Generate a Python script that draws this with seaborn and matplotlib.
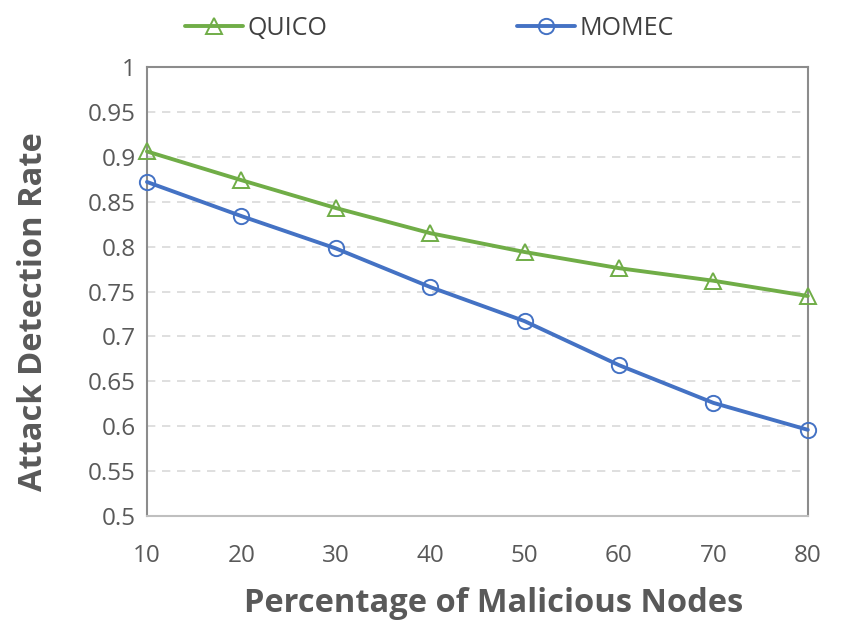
import numpy as np
import pandas as pd
import seaborn as sns
import matplotlib.pyplot as plt

# data
malicious_pct = [10, 20, 30, 40, 50, 60, 70, 80]
quico = [0.906, 0.874, 0.843, 0.815, 0.794, 0.776, 0.762, 0.745]
momec = [0.872, 0.834, 0.798, 0.755, 0.717, 0.668, 0.626, 0.596]
y_ticks = [0.5, 0.55, 0.6, 0.65, 0.7, 0.75, 0.8, 0.85, 0.9, 0.95, 1]
y_tick_labels = ['0.5', '0.55', '0.6', '0.65', '0.7', '0.75', '0.8', '0.85', '0.9', '0.95', '1']

sns.set_style('white')
plt.rcParams['font.family'] = ['Open Sans', 'DejaVu Sans']

df = pd.DataFrame({
    'pct': malicious_pct * 2,
    'rate': quico + momec,
    'method': ['QUICO'] * len(quico) + ['MOMEC'] * len(momec),
})

fig = plt.figure(figsize=(8.53, 6.28), dpi=100)
ax = fig.add_axes([0.1723, 0.1783, 0.7747, 0.715])

sns.lineplot(data=df, x='pct', y='rate', hue='method', style='method',
             palette={'QUICO': '#70AD47', 'MOMEC': '#4472C4'},
             markers={'QUICO': '^', 'MOMEC': 'o'}, dashes=False,
             linewidth=2.8, markersize=11, markerfacecolor='none',
             markeredgewidth=1.4, ax=ax, legend=False, clip_on=False, zorder=5)

for ln, c in zip(ax.lines, ['#70AD47', '#4472C4']):
    ln.set_markeredgecolor(c)

ax.set_xlim(10, 80)
ax.set_ylim(0.5, 1)
ax.set_xticks(malicious_pct)
ax.set_yticks(y_ticks)
ax.set_yticklabels(y_tick_labels)
ax.tick_params(axis='x', direction='in', length=6, color='#BFBFBF', pad=20,
               labelsize=17.5, labelcolor='#595959')
ax.tick_params(axis='y', length=0, pad=8, labelsize=17.5, labelcolor='#595959')
ax.yaxis.grid(True, linestyle=(0, (5, 4)), color='#D9D9D9', linewidth=1.2)
ax.xaxis.grid(False)
for s in ax.spines.values():
    s.set_color('#8C8C8C')
    s.set_linewidth(1.5)
ax.spines['bottom'].set_color('#BFBFBF')

ax.set_xlabel('Percentage of Malicious Nodes', fontsize=23.5, fontweight='bold',
              color='#595959')
ax.set_ylabel('Attack Detection Rate', fontsize=23.5, fontweight='bold',
              color='#595959')
ax.xaxis.set_label_coords(0.524, -0.157)
ax.yaxis.set_label_coords(-0.146, 0.455)

handles = [
    plt.Line2D([], [], color='#70AD47', lw=2.8, marker='^', markersize=11,
               markerfacecolor='none', markeredgewidth=1.4, label='QUICO'),
    plt.Line2D([], [], color='#4472C4', lw=2.8, marker='o', markersize=11,
               markerfacecolor='none', markeredgewidth=1.4, label='MOMEC'),
]
leg = fig.legend(handles=handles, loc='center left', bbox_to_anchor=(0.217, 0.955),
                 ncol=2, frameon=False, fontsize=18, columnspacing=7.6,
                 handlelength=2.3, handletextpad=0.2, borderpad=0, borderaxespad=0)
for t in leg.get_texts():
    t.set_color('#404040')

fig.savefig('out.png', dpi=100)
